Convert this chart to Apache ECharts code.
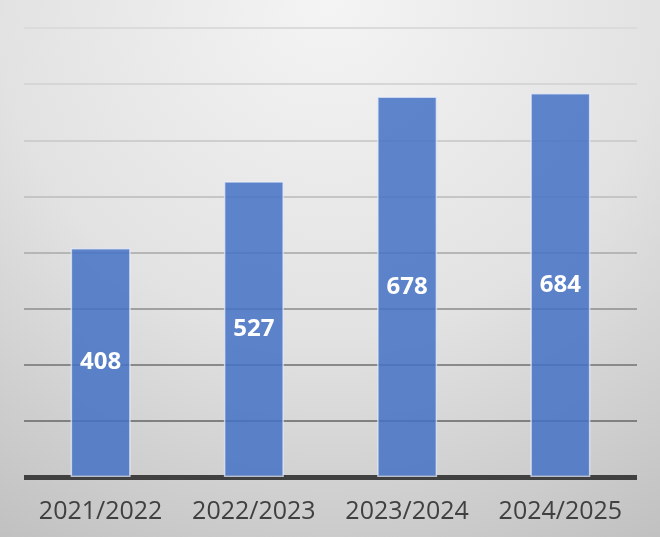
<!DOCTYPE html>
<html>
<head>
<meta charset="utf-8">
<script src="https://cdn.jsdelivr.net/npm/echarts@6/dist/echarts.min.js"></script>
<style>
html,body{margin:0;padding:0;}
#c{width:660px;height:537px;}
</style>
</head>
<body>
<div id="c"></div>
<script>
const categories = ['2021/2022', '2022/2023', '2023/2024', '2024/2025'];
const values = [408, 527, 678, 684];
const yMin = 0, yMax = 800, yInterval = 100;

const gridColors = ['#7a7a7a', '#808080', '#8a8a8a', '#a0a0a0', '#b6b6b6', '#c5c5c5', '#cecece', '#d6d6d6', '#dbdbdb'];

const chart = echarts.init(document.getElementById('c'), null, {renderer: 'canvas'});
chart.setOption({
  animation: false,
  backgroundColor: {
    type: 'radial', x: 0.5, y: 0.0, r: 1.25,
    colorStops: [
      {offset: 0, color: '#f4f4f4'},
      {offset: 0.5, color: '#e2e2e2'},
      {offset: 1, color: '#bcbcbc'}
    ]
  },
  grid: {left: 24, right: 23, top: 28, bottom: 60, containLabel: false},
  xAxis: {
    type: 'category',
    data: categories,
    axisLine: {show: true, lineStyle: {color: '#404040', width: 5, cap: 'butt'}},
    axisTick: {show: false},
    axisLabel: {interval: 0, color: '#404040', fontFamily: 'Open Sans', fontSize: 25, margin: 22}
  },
  yAxis: {
    type: 'value', min: yMin, max: yMax, interval: yInterval,
    axisLine: {show: false}, axisTick: {show: false}, axisLabel: {show: false},
    splitLine: {show: true, lineStyle: {color: gridColors, width: 2}}
  },
  series: [{
    type: 'bar',
    data: values,
    barWidth: 60,
    itemStyle: {color: 'rgba(68,114,196,0.85)', borderColor: 'rgba(235,240,250,0.7)', borderWidth: 1.5},
    label: {show: true, position: 'inside', color: '#ffffff', fontFamily: 'Open Sans', fontWeight: 'bold', fontSize: 24}
  }]
});
</script>
</body>
</html>
